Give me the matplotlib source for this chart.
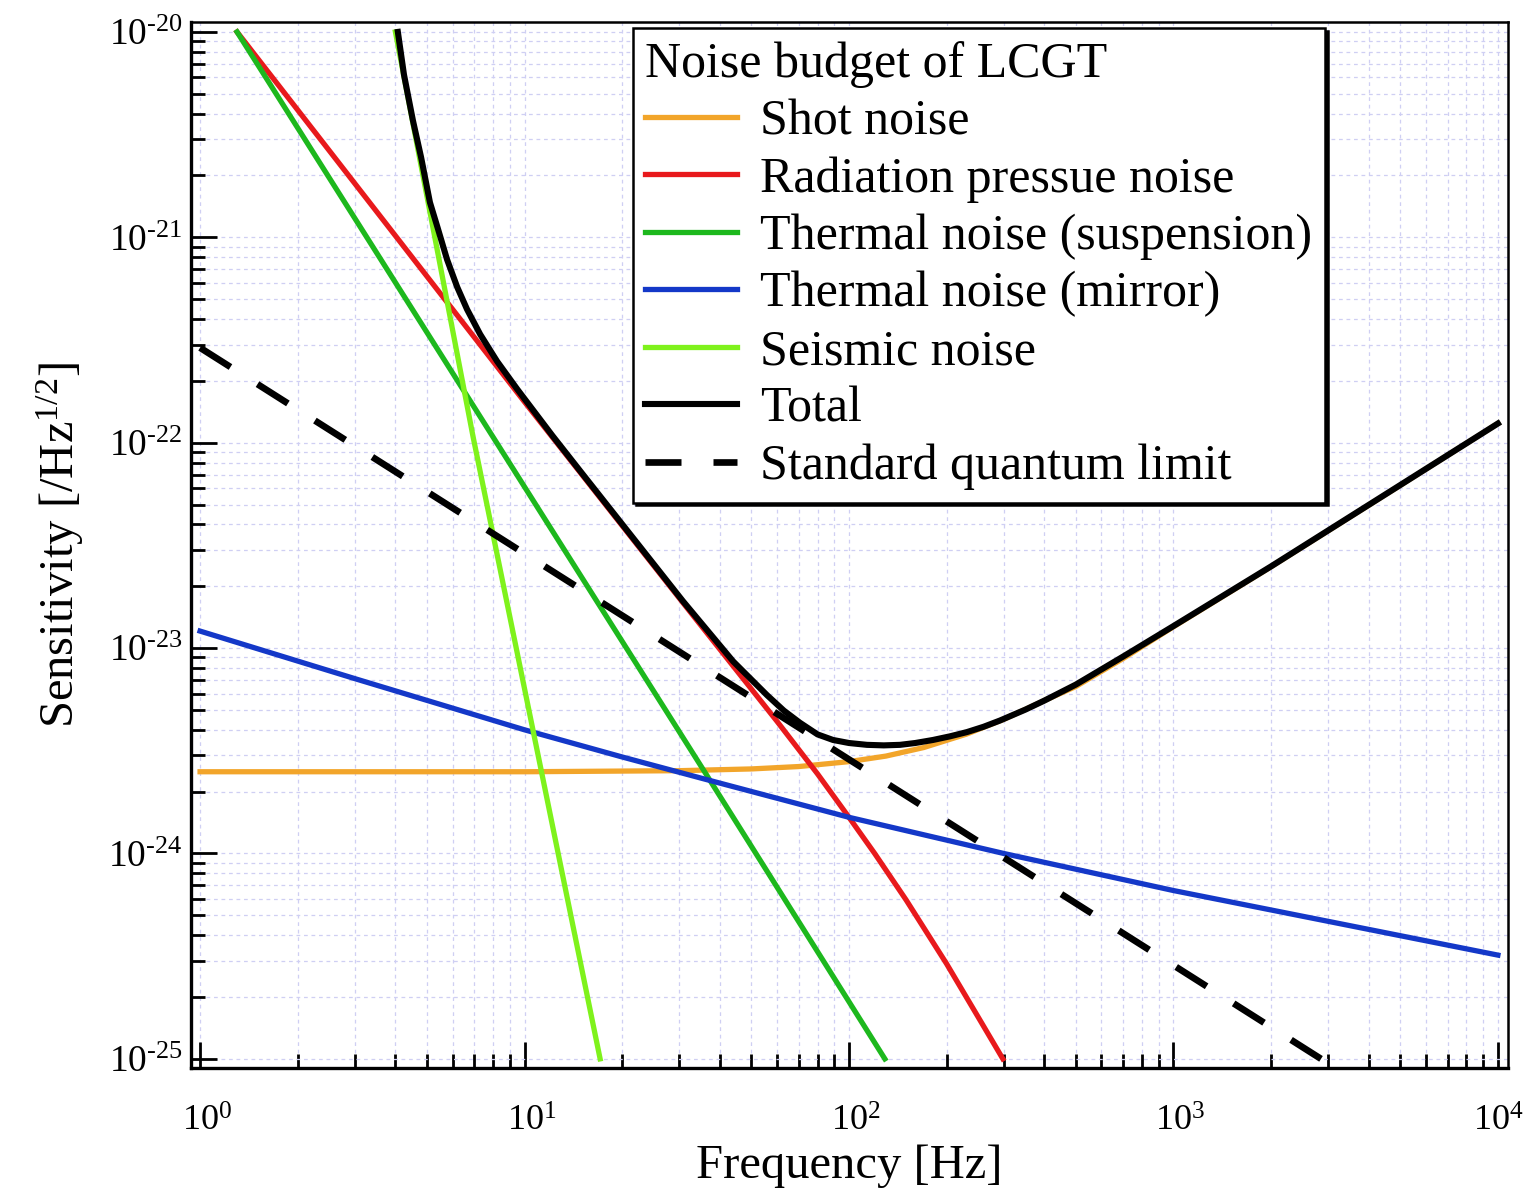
import matplotlib
matplotlib.use("Agg")
import matplotlib.pyplot as plt
from matplotlib.ticker import FixedLocator, FuncFormatter, NullFormatter
from matplotlib.transforms import ScaledTranslation
import numpy as np

# ---------------- data ----------------
shot_f = [1, 10, 30, 50, 70, 100, 130, 170, 230, 300, 400, 500, 700,
          1000, 2000, 5000, 10000]
shot_h = [2.5e-24, 2.5e-24, 2.53e-24, 2.58e-24, 2.65e-24, 2.8e-24, 2.98e-24,
          3.28e-24, 3.81e-24, 4.5e-24, 5.55e-24, 6.5e-24, 8.9e-24,
          1.27e-23, 2.49e-23, 6.2e-23, 1.24e-22]

rad_f = [1.3, 10, 30, 60, 80, 100, 120, 150, 200, 250, 298]
rad_h = [1e-20, 1.58e-22, 1.75e-23, 4.4e-24, 2.44e-24, 1.5e-24, 1.0e-24,
         5.94e-25, 2.9e-25, 1.6e-25, 1e-25]

susp_f = [1.3, 36, 129]
susp_h = [1e-20, 2.48e-24, 1e-25]

mirror_f = [1, 3, 10, 20, 36, 100, 300, 1000, 10000]
mirror_h = [1.21e-23, 7.1e-24, 4.0e-24, 2.95e-24, 2.3e-24, 1.5e-24, 1.0e-24,
            6.6e-25, 3.2e-25]

seis_f = [4.0, 6.94, 17.1]
seis_h = [1e-20, 1.07e-22, 1e-25]

total_f = [4.07, 4.25, 4.53, 4.8, 5.11, 5.4, 5.77, 6.2, 6.65, 7.3, 8.23, 9.5,
           12.2, 15, 20, 30.8, 44, 55.9, 63, 70.6, 80, 89.3, 100, 113.6, 128,
           143.6, 160, 181.5, 205, 231, 260, 292, 350, 400, 500, 700, 1000,
           2000, 5000, 10000]
total_h = [1e-20, 6.2e-21, 3.7e-21, 2.45e-21, 1.48e-21, 1.11e-21, 7.8e-22,
           5.73e-22, 4.46e-22, 3.37e-22, 2.49e-22, 1.82e-22, 1.08e-22,
           7.13e-23, 4.01e-23, 1.69e-23, 8.6e-24, 5.9e-24, 4.96e-24,
           4.33e-24, 3.8e-24, 3.57e-24, 3.45e-24, 3.38e-24, 3.36e-24,
           3.38e-24, 3.45e-24, 3.57e-24, 3.72e-24, 3.9e-24, 4.14e-24,
           4.44e-24, 5.02e-24, 5.55e-24, 6.64e-24, 9.1e-24, 1.28e-23,
           2.5e-23, 6.22e-23, 1.24e-22]

sql_f = [1, 2850]
sql_h = [2.9e-22, 1e-25]

x_decades = [0, 1, 2, 3, 4]
y_decades = [-25, -24, -23, -22, -21, -20]

labels = ["Shot noise", "Radiation pressue noise", "Thermal noise (suspension)",
          "Thermal noise (mirror)", "Seismic noise", "Total",
          "Standard quantum limit"]
legend_title = "Noise budget of LCGT"
xlabel = "Frequency [Hz]"
ylabel = "Sensitivity [/Hz$^{1/2}$]"

# ---------------- style ----------------
plt.rcParams["font.family"] = ["Liberation Serif", "DejaVu Serif"]
plt.rcParams["mathtext.fontset"] = "custom"
plt.rcParams["mathtext.rm"] = "Liberation Serif"
plt.rcParams["mathtext.it"] = "Liberation Serif:italic"
plt.rcParams["mathtext.default"] = "regular"

fig = plt.figure(figsize=(15.26, 11.97), dpi=100)
ax = fig.add_axes([0.1252, 0.1078, 0.863, 0.8739])

lw = 3.8
ax.plot(shot_f, shot_h, color="#f2a52a", lw=lw, label=labels[0], zorder=3)
ax.plot(rad_f, rad_h, color="#e8191c", lw=lw, label=labels[1], zorder=3)
ax.plot(susp_f, susp_h, color="#1db81d", lw=lw, label=labels[2], zorder=3)
ax.plot(mirror_f, mirror_h, color="#1438c8", lw=lw, label=labels[3], zorder=3)
ax.plot(seis_f, seis_h, color="#7ff21c", lw=lw, label=labels[4], zorder=3)
ax.plot(total_f, total_h, color="black", lw=4.4, label=labels[5], zorder=4,
        solid_joinstyle="round")
ax.plot(sql_f, sql_h, color="black", lw=4.8, dashes=(5.4, 4.8),
        dash_capstyle="butt", label=labels[6], zorder=4)

xlim = (0.938, 10743)
ylim = (9.03e-26, 1.119e-20)
ax.set_xscale("log")
ax.set_yscale("log")
ax.set_xlim(*xlim)
ax.set_ylim(*ylim)


def minors(decs, lo, hi):
    vals = []
    for k in range(min(decs) - 1, max(decs) + 1):
        for m in range(2, 10):
            v = m * 10.0 ** k
            if lo <= v <= hi:
                vals.append(v)
    return vals


ax.xaxis.set_major_locator(FixedLocator([10.0 ** k for k in x_decades]))
ax.yaxis.set_major_locator(FixedLocator([10.0 ** k for k in y_decades]))
ax.xaxis.set_minor_locator(FixedLocator(minors(x_decades, *xlim)))
ax.yaxis.set_minor_locator(FixedLocator(minors(y_decades, *ylim)))


def fmt(v, pos):
    e = int(round(np.log10(v)))
    if e < 0:
        return r"$10^{\text{-}%d}$" % (-e)
    return r"$10^{%d}$" % e


ax.xaxis.set_major_formatter(FuncFormatter(fmt))
ax.yaxis.set_major_formatter(FuncFormatter(fmt))
ax.xaxis.set_minor_formatter(NullFormatter())
ax.yaxis.set_minor_formatter(NullFormatter())

ax.tick_params(which="both", direction="in", top=False, right=False,
               width=2.0, colors="black")
ax.tick_params(which="major", length=19)
ax.tick_params(which="minor", length=10)
ax.tick_params(axis="x", which="major", labelsize=26, pad=27)
ax.tick_params(axis="y", which="major", labelsize=27, pad=6)

xlabs = ax.get_xticklabels()
for lab in xlabs[:-1]:
    lab.set_transform(lab.get_transform()
                      + ScaledTranslation(5 / 72, 0, fig.dpi_scale_trans))

for side in ["left", "bottom"]:
    ax.spines[side].set_linewidth(2.4)
for side in ["top", "right"]:
    ax.spines[side].set_linewidth(1.8)

ax.grid(True, which="both", color="#cfcff3", lw=0.9, linestyle=(0, (3, 3)))
ax.set_axisbelow(True)

ax.set_xlabel(xlabel, fontsize=35, labelpad=4)
ax.set_ylabel(ylabel, fontsize=35, labelpad=16)

leg = ax.legend(loc="upper right", bbox_to_anchor=(0.861, 0.994),
                borderaxespad=0, title=legend_title, fontsize=36,
                title_fontsize=36, fancybox=False, framealpha=1,
                edgecolor="black", handlelength=1.84, handletextpad=0.46,
                labelspacing=0.22, borderpad=0.25,
                shadow={"color": "black", "alpha": 1})
leg._legend_box.align = "left"
leg.get_frame().set_linewidth(1.8)

fig.savefig("out.png", dpi=100)
